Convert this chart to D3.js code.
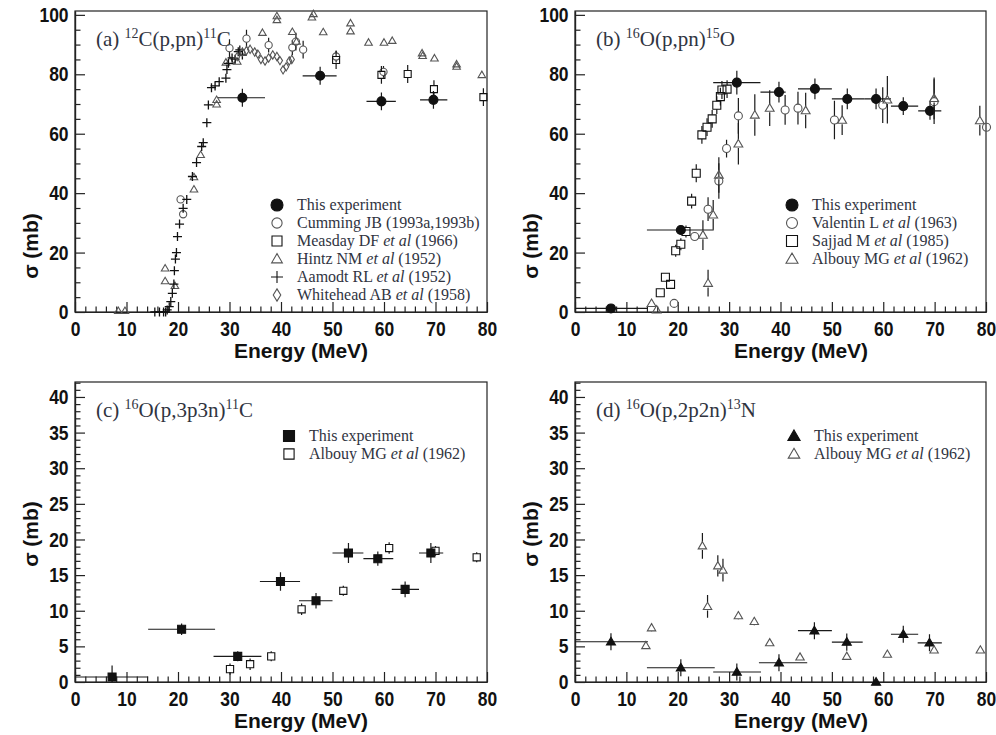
<!DOCTYPE html>
<html>
<head>
<meta charset="utf-8">
<script src="https://cdn.jsdelivr.net/npm/d3@7"></script>
<style>
  body { margin: 0; background: #fff; }
  svg { display: block; }
</style>
</head>
<body>
<svg id="chart" width="996" height="735"></svg>
<script>
// ---- values
// "this experiment" rows: [E, Elow, Ehigh, sigma, dSigma]; other rows: [E, sigma, dSigma]
const c12ThisExp = [[32.5,27.7,36.9,72.1,3],[47.6,44.2,50.8,79.5,3],[59.5,56.6,62.3,70.9,3],[69.6,67.0,72.3,71.4,3]];
const c12Cumming = [[20.5,37.9,0],[21.0,32.9,0],[30.0,88.8,3],[33.3,92.0,3],[37.6,89.8,2.5],[42.2,89.0,2.5],[42.9,91.0,3],[44.3,88.3,3],[50.7,86.0,2],[59.9,80.8,2]];
const c12Measday = [[50.7,84.8,3],[59.5,79.8,3],[64.6,80.1,3],[69.7,75.0,3],[79.3,72.3,3]];
const c12Hintz = [[8.4,0.4,0],[9.7,0.4,0],[17.5,14.7,0],[17.5,10.4,0],[19.4,8.8,0],[23.1,41.3,0],[23.1,45.4,0],[24.4,52.9,0],
  [27.5,71.4,0],[27.5,69.9,0],[29.3,84.0,0],[30.1,84.5,0],[31.5,84.3,0],[36.4,94.0,0],[39.2,98.3,0],[39.2,99.6,0],
  [42.2,94.3,0],[43.0,91.0,0],[46.0,99.2,0],[46.3,100.3,0],[48.2,94.2,0],[53.5,97.2,0],[53.5,94.5,0],[57.0,90.7,0],
  [60.0,90.7,0],[61.6,91.3,0],[67.4,87.1,0],[67.5,86.2,0],[69.8,85.4,0],[74.1,83.4,0],[74.1,82.6,0],[79.0,79.8,0]];
const c12Aamodt = [[15.5,0,0],[16.4,0,0],[17.2,0,0],[17.6,0,0],[17.9,0.7,0],[18.3,1.8,0],[18.6,3.5,0],[18.9,6.3,0],[19.2,9.4,0],
  [19.3,13.9,0],[19.5,17.8,0],[19.7,20.0,0],[19.9,25.4,0],[20.3,29.6,0],[21.0,34.9,0],[21.7,37.9,0],[22.8,45.6,0],
  [23.6,50.3,0],[24.6,55.7,0],[24.9,57.0,0],[25.6,63.7,0],[25.9,69.7,0],[26.5,75.5,0],[27.2,76.1,0],[28.0,77.5,0],
  [29.3,78.7,0],[29.5,81.6,0],[29.8,83.7,0],[30.5,85.5,0],[31.1,85.1,0],[31.7,87.6,0],[32.0,88.2,0],[32.5,86.5,0]];
const c12Whitehead = [[31.5,86.0,0],[32.5,87.5,0],[33.3,88.0,0],[34.0,88.4,0],[34.9,87.5,0],[35.5,86.8,0],[36.1,85.0,0],
  [36.9,84.5,0],[37.6,85.5,0],[38.4,86.5,0],[39.2,86.0,0],[39.8,84.6,0],[40.4,81.5,0],[41.0,82.5,0],[41.6,84.5,0],[42.1,85.0,0]];

const o15ThisExp = [[7.0,0,14.2,1.2,0],[20.6,14.0,27.0,27.6,0],[31.5,26.9,36.1,77.2,4],[39.7,36.1,41.0,74.0,3.5],
  [46.7,43.4,50.0,75.1,3.5],[53.0,50.0,56.3,71.7,3.5],[58.6,56.3,61.5,71.7,3.5],[63.9,61.5,66.8,69.3,3],[69.1,66.8,71.3,67.7,3]];
const o15Valentin = [[19.3,2.9,0],[23.3,25.4,0],[25.9,34.6,4],[28.0,44.1,6],[29.5,55.0,3],[31.8,66.0,6],[40.9,68.0,5],
  [43.4,68.6,5.5],[50.5,64.6,6.5],[59.9,69.6,6],[69.9,70.8,7.5],[80.1,62.2,0]];
const o15Sajjad = [[16.6,6.5,0],[17.6,11.7,0],[18.6,9.3,0],[19.6,20.6,2],[20.6,22.8,2],[21.6,27.1,2],[22.7,37.3,2.5],
  [23.6,46.7,3],[24.7,59.6,3],[25.7,62.2,3],[26.7,65.0,3],[27.6,69.6,3],[28.3,72.5,3],[28.6,74.7,3],[29.6,75.0,3]];
const o15Albouy = [[14.9,2.9,0],[15.9,0.7,0],[24.9,25.9,5],[25.9,9.7,4.5],[26.9,32.7,5],[28.0,46.1,6],[31.8,56.6,7],
  [35.0,66.3,7],[37.9,68.6,6],[44.9,67.8,6],[52.0,64.6,5],[60.8,71.4,8],[69.9,71.9,7],[78.8,64.4,5]];

const c11ThisExp = [[7.2,0,14.2,0.7,1.6],[20.7,14.2,27.2,7.4,0.8],[31.6,26.9,36.2,3.6,0.7],[39.9,35.9,43.7,14.1,1.3],
  [46.8,43.5,50.0,11.4,1.1],[53.1,50.0,56.0,18.1,1.4],[58.8,56.0,61.8,17.3,1.0],[64.1,61.5,66.8,13.0,1.1],[69.1,66.8,71.5,18.1,1.4]];
const c11Albouy = [[30.1,1.8,0.8],[34.0,2.5,0.8],[38.1,3.6,0.7],[44.0,10.2,0.8],[52.1,12.8,0.7],[61.0,18.8,0.8],
  [70.0,18.4,0.7],[78.0,17.5,0.7]];

const n13ThisExp = [[7.0,0,14.2,5.65,1.2],[20.6,14.0,27.2,2.0,1.2],[31.5,26.9,36.2,1.4,1.2],[39.7,35.8,45.2,2.7,1.2],
  [46.6,43.4,50.0,7.2,1.2],[52.9,50.0,56.0,5.6,1.2],[58.6,58.6,58.6,0,0],[63.9,61.5,66.8,6.7,1.2],[69.0,66.7,71.4,5.5,1.2]];
const n13Albouy = [[13.8,5.1,0],[14.9,7.6,0.6],[24.8,19.1,1.8],[25.8,10.6,1.6],[27.8,16.3,1.5],[28.8,15.7,1.6],
  [31.8,9.3,0.6],[34.9,8.5,0.6],[37.9,5.5,0],[43.8,3.5,0],[52.9,3.6,0],[60.8,3.9,0],[69.9,4.5,0],[78.9,4.5,0]];

const xTicks = [0, 10, 20, 30, 40, 50, 60, 70, 80];

// ---- drawing
const svg = d3.select("#chart");
const sans = "'Liberation Sans', Arial, Helvetica, sans-serif";
const serif = "'Liberation Serif', 'Times New Roman', serif";
const textCol = "#30343f";

function markerPath(kind, s){
    if(kind === "circle") return `M${-s},0A${s},${s} 0 1,0 ${s},0A${s},${s} 0 1,0 ${-s},0Z`;
    if(kind === "square") return `M${-s},${-s}H${s}V${s}H${-s}Z`;
    if(kind === "triangle") return `M0,${-s*1.05}L${s*1.05},${s*0.75}L${-s*1.05},${s*0.75}Z`;
    if(kind === "diamond") return `M0,${-s*1.3}L${s*0.8},0L0,${s*1.3}L${-s*0.8},0Z`;
    if(kind === "plus") return `M${-s},0H${s}M0,${-s}V${s}`;
}

function drawPanel(p){
    var x = d3.scaleLinear().domain([0, 80]).range([p.left, p.right]);
    var y = d3.scaleLinear().domain([0, p.ymax]).range([p.bottom, p.top]);
    var g = svg.append("g");

    // frame
    g.append("rect")
        .attr("x", p.left).attr("y", p.top)
        .attr("width", p.right - p.left).attr("height", p.bottom - p.top)
        .attr("fill", "none").attr("stroke", "#222").attr("stroke-width", 1.2);

    // minor ticks
    var xMinor = d3.range(0, 81, 2).filter(v => v % 10 !== 0);
    var yMinor = d3.range(0, p.ymax, p.yMinorStep).filter(v => Math.abs(v / p.yStep - Math.round(v / p.yStep)) > 1e-6);
    g.append("g").attr("transform", `translate(0,${p.bottom})`)
        .call(d3.axisBottom(x).tickValues(xMinor).tickFormat("").tickSizeInner(-5.5).tickSizeOuter(0));
    g.append("g").attr("transform", `translate(${p.left},0)`)
        .call(d3.axisLeft(y).tickValues(yMinor).tickFormat("").tickSizeInner(-5.5).tickSizeOuter(0));

    // major ticks + labels
    var xAx = g.append("g").attr("transform", `translate(0,${p.bottom})`)
        .call(d3.axisBottom(x).tickValues(xTicks).tickSizeInner(-10).tickSizeOuter(0).tickPadding(9));
    var yAx = g.append("g").attr("transform", `translate(${p.left},0)`)
        .call(d3.axisLeft(y).tickValues(d3.range(0, p.ymax, p.yStep)).tickSizeInner(-10).tickSizeOuter(0).tickPadding(7));
    [xAx, yAx].forEach(a => {
        a.selectAll("text").style("font-family", sans).style("font-weight", "bold")
            .style("font-size", "19px").attr("fill", "#111")
            .attr("transform", "scale(0.92,1.08)");
    });
    g.selectAll(".domain").attr("stroke", "#222").attr("stroke-width", 1.2);
    g.selectAll(".tick line").attr("stroke", "#222").attr("stroke-width", 1.2);

    // axis titles
    g.append("text")
        .attr("x", p.left + 226).attr("y", p.bottom + 46)
        .attr("text-anchor", "middle")
        .style("font-family", sans).style("font-weight", "bold").style("font-size", "21px")
        .attr("fill", "#111").text("Energy (MeV)");
    g.append("text")
        .attr("transform", `translate(${p.left - 37},${p.ytitle}) rotate(-90)`)
        .attr("text-anchor", "middle")
        .style("font-family", sans).style("font-weight", "bold").style("font-size", "21px")
        .attr("fill", "#111").text("σ (mb)");

    // panel title with superscripts
    var t = g.append("text").attr("x", p.left + 21).attr("y", p.top + 35)
        .style("font-family", serif).style("font-size", "21px").attr("fill", textCol);
    p.title.forEach(part => {
        if(part.sup){
            t.append("tspan").attr("dy", -8).style("font-size", "14px").text(part.sup);
        } else {
            t.append("tspan").attr("dy", part.after ? 8 : 0).text(part.text);
        }
    });

    // data series
    p.series.forEach(s => {
        var sg = g.append("g");
        var gap = s.fill === "none" ? s.size : 0;
        s.data.forEach(d => {
            var bin = d.length === 5;
            var e = d[0], sig = bin ? d[3] : d[1], err = bin ? d[4] : d[2];
            var cx = x(e), cy = y(sig);
            var path = d3.path();
            if(err > 0){
                var y1 = y(sig + err), y2 = y(Math.max(sig - err, 0));
                if(cy - gap > y1){ path.moveTo(cx, y1); path.lineTo(cx, cy - gap); }
                if(y2 > cy + gap){ path.moveTo(cx, cy + gap); path.lineTo(cx, y2); }
            }
            if(bin && d[2] > d[1]){
                path.moveTo(x(d[1]), cy); path.lineTo(x(d[2]), cy);
            }
            sg.append("path").attr("d", path.toString())
                .attr("stroke", "#1a1a1a").attr("stroke-width", 1.2).attr("fill", "none");
            sg.append("path")
                .attr("d", markerPath(s.kind, s.size))
                .attr("transform", `translate(${cx},${cy})`)
                .attr("fill", s.fill)
                .attr("stroke", s.color)
                .attr("stroke-width", s.kind === "plus" ? 1.3 : 1.1);
        });
    });

    // legend
    p.series.forEach((s, i) => {
        var ly = p.legendY + i * p.legendStep;
        g.append("path")
            .attr("d", markerPath(s.kind, s.size + 1.5))
            .attr("transform", `translate(${p.legendX},${ly})`)
            .attr("fill", s.fill).attr("stroke", s.color).attr("stroke-width", 1.1);
        var lt = g.append("text").attr("x", p.legendX + 20).attr("y", ly + 5)
            .style("font-family", serif).style("font-size", "16px").attr("fill", textCol);
        s.label.forEach(part => {
            lt.append("tspan").style("font-style", part.it ? "italic" : "normal").text(part.t);
        });
    });
}

const grey = "#555";
const panels = [
    {left: 75, right: 487, top: 11, bottom: 312, ymax: 101.3, yStep: 20, yMinorStep: 5, ytitle: 246,
     title: [{text: "(a) "}, {sup: "12"}, {text: "C(p,pn)", after: true}, {sup: "11"}, {text: "C", after: true}],
     legendX: 277, legendY: 205, legendStep: 18,
     series: [
        {data: c12ThisExp, kind: "circle", size: 4.5, fill: "#111", color: "#111", label: [{t: "This experiment"}]},
        {data: c12Cumming, kind: "circle", size: 3.6, fill: "none", color: grey, label: [{t: "Cumming JB (1993a,1993b)"}]},
        {data: c12Measday, kind: "square", size: 3.5, fill: "none", color: "#111", label: [{t: "Measday DF "}, {t: "et al", it: true}, {t: " (1966)"}]},
        {data: c12Hintz, kind: "triangle", size: 3.6, fill: "none", color: grey, label: [{t: "Hintz NM "}, {t: "et al", it: true}, {t: " (1952)"}]},
        {data: c12Aamodt, kind: "plus", size: 4.5, fill: "none", color: "#111", label: [{t: "Aamodt RL "}, {t: "et al", it: true}, {t: " (1952)"}]},
        {data: c12Whitehead, kind: "diamond", size: 3.2, fill: "none", color: grey, label: [{t: "Whitehead AB "}, {t: "et al", it: true}, {t: " (1958)"}]}
     ]},
    {left: 575, right: 986, top: 11, bottom: 312, ymax: 101.3, yStep: 20, yMinorStep: 5, ytitle: 246,
     title: [{text: "(b) "}, {sup: "16"}, {text: "O(p,pn)", after: true}, {sup: "15"}, {text: "O", after: true}],
     legendX: 792, legendY: 205, legendStep: 18,
     series: [
        {data: o15ThisExp, kind: "circle", size: 4.5, fill: "#111", color: "#111", label: [{t: "This experiment"}]},
        {data: o15Valentin, kind: "circle", size: 4, fill: "none", color: grey, label: [{t: "Valentin L "}, {t: "et al", it: true}, {t: " (1963)"}]},
        {data: o15Sajjad, kind: "square", size: 4, fill: "none", color: "#111", label: [{t: "Sajjad M "}, {t: "et al", it: true}, {t: " (1985)"}]},
        {data: o15Albouy, kind: "triangle", size: 4.2, fill: "none", color: grey, label: [{t: "Albouy MG "}, {t: "et al", it: true}, {t: " (1962)"}]}
     ]},
    {left: 75, right: 487, top: 382, bottom: 682, ymax: 42.1, yStep: 5, yMinorStep: 1, ytitle: 534,
     title: [{text: "(c) "}, {sup: "16"}, {text: "O(p,3p3n)", after: true}, {sup: "11"}, {text: "C", after: true}],
     legendX: 289, legendY: 436, legendStep: 18,
     series: [
        {data: c11ThisExp, kind: "square", size: 4, fill: "#111", color: "#111", label: [{t: "This experiment"}]},
        {data: c11Albouy, kind: "square", size: 3.6, fill: "none", color: "#111", label: [{t: "Albouy MG "}, {t: "et al", it: true}, {t: " (1962)"}]}
     ]},
    {left: 575, right: 986, top: 382, bottom: 682, ymax: 42.1, yStep: 5, yMinorStep: 1, ytitle: 534,
     title: [{text: "(d) "}, {sup: "16"}, {text: "O(p,2p2n)", after: true}, {sup: "13"}, {text: "N", after: true}],
     legendX: 794, legendY: 436, legendStep: 18,
     series: [
        {data: n13ThisExp, kind: "triangle", size: 4.3, fill: "#111", color: "#111", label: [{t: "This experiment"}]},
        {data: n13Albouy, kind: "triangle", size: 4, fill: "none", color: grey, label: [{t: "Albouy MG "}, {t: "et al", it: true}, {t: " (1962)"}]}
     ]}
];

panels.forEach(drawPanel);
</script>
</body>
</html>
